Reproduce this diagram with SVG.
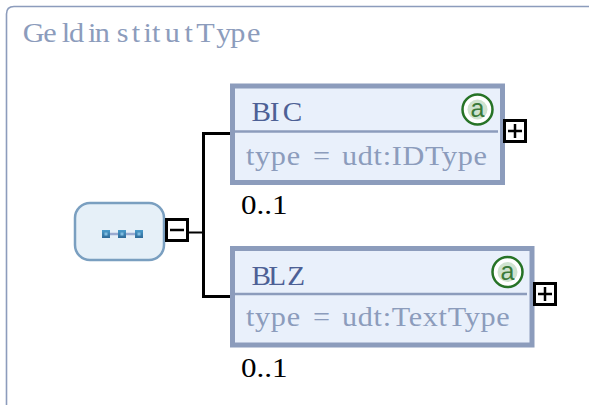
<svg xmlns="http://www.w3.org/2000/svg" width="589" height="405" viewBox="0 0 589 405">
<defs>
<linearGradient id="sqg" x1="0" y1="0" x2="0" y2="1"><stop offset="0" stop-color="#4a9ccc"/><stop offset="1" stop-color="#2f6a98"/></linearGradient>
</defs>
<style>
text{font-family:"Liberation Serif",serif}
.title{font-size:27px;fill:#8c9cbc}
.name{font-size:27px;fill:#4d6095}
.type{font-size:27px;fill:#8c9cbc;letter-spacing:.6px}
.occ{font-size:27px;fill:#000}
.box{fill:#e9f0fb;stroke:#8c9cbc;stroke-width:5}
.sep{stroke:#8c9cbc;stroke-width:2.5;fill:none}
.btn{fill:#fff;stroke:#000;stroke-width:3}
.sym{stroke:#000;stroke-width:2.5;fill:none}
.ring{fill:#fff;stroke:#267326;stroke-width:2.5}
.core{fill:#cfe3cf}
.attrt{font-size:25px;fill:#3a7a3a;font-family:"Liberation Sans",sans-serif}
.sq{fill:url(#sqg)}
.dot{fill:#7fbce0}
</style>
<path d="M589 6.500H14Q6.500 6.500 6.500 14V405" fill="none" stroke="#8c9cbc" stroke-width="1.600"/>
<text class="title" transform="translate(22 42) scale(1.12 1)" y="0" x="0.700 19 35.500 42 59 65 84.500 98 108.500 116 127.500 145 155.500 173.500 186 201">GeldinstitutType</text>
<g id="connectors" fill="none" stroke="#000" stroke-width="3">
<path d="M188 232.500H203.500" stroke-width="2"/>
<path d="M203.500 133.500V296.500M202 133.500H231M202 296.500H231"/>
</g>
<g id="sequence">
<rect x="75" y="203" width="89" height="57" rx="15" fill="#e6f0f8" stroke="#7a9fc0" stroke-width="2.500"/>
<path d="M110 234H118M126 234H135" stroke="#9aaad0" stroke-width="2.500"/>
<rect class="sq" x="102" y="230" width="8" height="8"/>
<rect class="dot" x="104.500" y="232.500" width="3" height="3"/>
<rect class="sq" x="118" y="230" width="8" height="8"/>
<rect class="dot" x="120.500" y="232.500" width="3" height="3"/>
<rect class="sq" x="135" y="230" width="8" height="8"/>
<rect class="dot" x="137.500" y="232.500" width="3" height="3"/>
<rect class="btn" x="166.500" y="219.500" width="21" height="21"/>
<path class="sym" d="M170 230H184"/>
</g>
<g id="BIC">
<rect class="box" x="232.500" y="86" width="270" height="96.500"/>
<path class="sep" d="M235 131.500H498"/>
<text class="name" transform="translate(251.500 121) scale(1.08 1)" y="0" x="0 17 29">BIC</text>
<text class="type" transform="translate(246 165) scale(1.12 1)" y="0"><tspan x="0">type</tspan><tspan x="59.800">=</tspan><tspan x="85.700">udt:IDType</tspan></text>
<circle class="ring" cx="477.500" cy="109.500" r="15"/>
<circle class="core" cx="477.500" cy="109.500" r="10"/>
<text class="attrt" x="477.500" y="117" text-anchor="middle">a</text>
<rect class="btn" x="504.500" y="120.500" width="21" height="21"/>
<path class="sym" d="M508 131H522M515 124V138"/>
<text class="occ" transform="translate(241 214) scale(1.15 1)" y="0">0..1</text>
</g>
<g id="BLZ">
<rect class="box" x="232.500" y="248.500" width="299.500" height="96.500"/>
<path class="sep" d="M235 294H527"/>
<text class="name" transform="translate(251.500 285) scale(1.08 1)" y="0" x="0 15.500 33">BLZ</text>
<text class="type" transform="translate(246 326) scale(1.12 1)" y="0"><tspan x="0">type</tspan><tspan x="59.800">=</tspan><tspan x="85.700">udt:TextType</tspan></text>
<circle class="ring" cx="507.500" cy="272" r="15"/>
<circle class="core" cx="507.500" cy="272" r="10"/>
<text class="attrt" x="507.500" y="279.500" text-anchor="middle">a</text>
<rect class="btn" x="534.500" y="283.500" width="21" height="21"/>
<path class="sym" d="M538 294H552M545 287V301"/>
<text class="occ" transform="translate(241 377) scale(1.15 1)" y="0">0..1</text>
</g>
</svg>
